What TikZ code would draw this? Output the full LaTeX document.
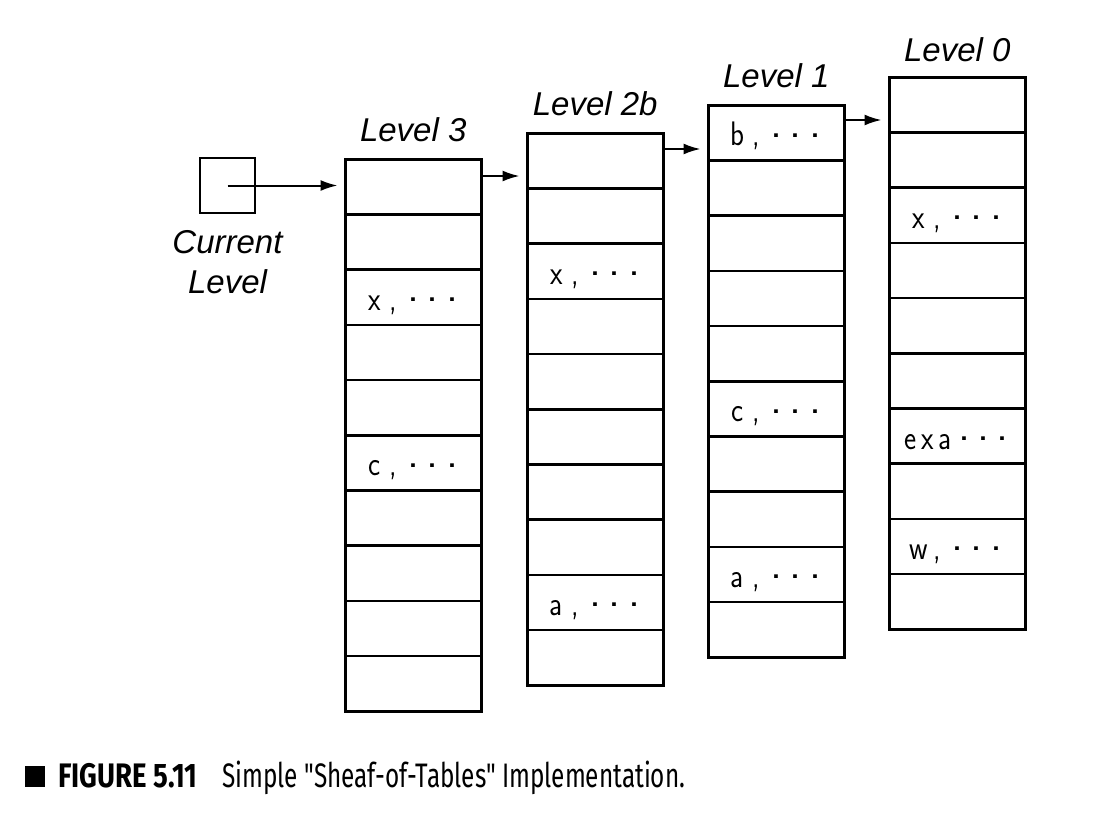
\documentclass[tikz,border=0pt]{standalone}
\usepackage{fontspec}
\usepackage{graphicx}
\usetikzlibrary{arrows.meta,calc}
\newfontfamily\lvlfont{Liberation Sans}
\newfontfamily\capfont{Fira Sans}
\newcommand\cc[1]{\makebox[19.5pt]{\scalebox{0.85}[1]{#1}}}
\newcommand\ccn[1]{\makebox[17.5pt]{\scalebox{0.85}[1]{#1}}}
\newcommand\dd{\makebox[19.5pt]{\raisebox{8.5pt}{\fontsize{46}{46}\selectfont .}}}
\begin{document}
\begin{tikzpicture}[x=1pt,y=-1pt,
  cell/.style={draw, line width=2.5pt, minimum width=136pt, minimum height=55.2pt, inner sep=0pt, anchor=north west},
  entry/.style={inner sep=0pt, text height=26pt, text depth=0pt, font=\sffamily\fontsize{34}{34}\selectfont},
  lvl/.style={inner sep=0pt, anchor=base, font=\lvlfont\itshape\fontsize{33}{33}\selectfont},
  arr/.style={line width=2pt, -{Latex[length=17pt,width=11pt]}, shorten >=6.5pt}]
\useasboundingbox (0,0) rectangle (1102,828);
% tables
\foreach \n/\x/\y in {L3/344/158, L2b/526/132, L1/707/104, L0/888/76}{
  \foreach \i in {1,...,10}{
    \pgfmathsetmacro\yy{\y+(\i-1)*55.2}
    \node[cell] (\n-\i) at (\x,\yy) {};
  }
}
% entries
\node[entry] (e3x) at (L3-3.center) {\cc{x}\cc{,}\dd\dd\dd};
\node[entry] (e3c) at (L3-6.center) {\cc{c}\cc{,}\dd\dd\dd};
\node[entry] (e2x) at (L2b-3.center) {\cc{x}\cc{,}\dd\dd\dd};
\node[entry] (e2a) at (L2b-9.center) {\cc{a}\cc{,}\dd\dd\dd};
\node[entry] (e1b) at (L1-1.center) {\cc{b}\cc{,}\dd\dd\dd};
\node[entry] (e1c) at (L1-6.center) {\cc{c}\cc{,}\dd\dd\dd};
\node[entry] (e1a) at (L1-9.center) {\cc{a}\cc{,}\dd\dd\dd};
\node[entry] (e0x) at (L0-3.center) {\cc{x}\cc{,}\dd\dd\dd};
\node[entry] (e0e) at (L0-7.center) {\ccn{e}\ccn{x}\ccn{a}\dd\dd\dd};
\node[entry] (e0w) at (L0-9.center) {\cc{w}\cc{,}\dd\dd\dd};
% level titles
\node[lvl] (t3) at ($(L3-1.north)+(0,-16.5)$) {Level 3};
\node[lvl] (t2) at ($(L2b-1.north)+(0,-16.5)$) {Level 2b};
\node[lvl] (t1) at ($(L1-1.north)+(0,-16.5)$) {Level 1};
\node[lvl] (t0) at ($(L0-1.north)+(0,-15)$) {Level 0};
% current level
\node[draw, line width=2.5pt, minimum size=55pt, inner sep=0pt] (cur) at (227.5,185.5) {};
\node[lvl] (cl1) at (227.5,253) {Current};
\node[lvl] (cl2) at (227.5,293) {Level};
\draw[arr] (cur.center) -- (cur.center -| L3-1.west);
% links
\coordinate (a3) at ($(L3-1.north east)+(0,18)$);
\coordinate (a2) at ($(L2b-1.north east)+(0,17)$);
\coordinate (a1) at ($(L1-1.north east)+(0,16)$);
\draw[arr] (a3) -- (a3 -| L2b-1.west);
\draw[arr] (a2) -- (a2 -| L1-1.west);
\draw[arr] (a1) -- (a1 -| L0-1.west);
% caption
\node[fill=black, minimum width=20pt, minimum height=21pt, inner sep=0pt] (sq) at (35,776.5) {};
\node[inner sep=0pt, anchor=base west, font=\capfont\bfseries\fontsize{34}{34}\selectfont] (fig) at (58,787) {\resizebox{139pt}{\height}{FIGURE 5.11}};
\node[inner sep=0pt, anchor=base west, font=\capfont\fontsize{34}{34}\selectfont] (capt) at (222,787) {\resizebox{463pt}{\height}{Simple "Sheaf-of-Tables" Implementation.}};
\end{tikzpicture}
\end{document}
